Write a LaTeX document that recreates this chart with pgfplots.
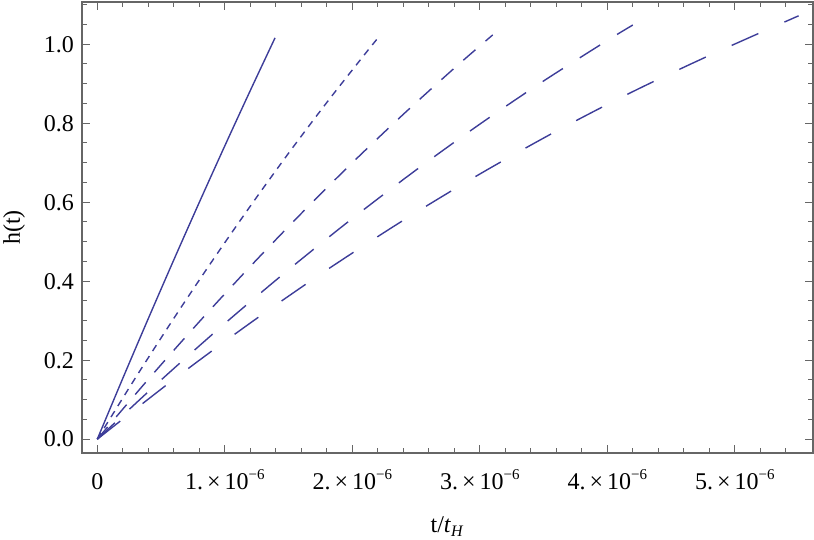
\documentclass[border=0pt]{standalone}
\usepackage{fontspec}
\setmainfont{Liberation Serif}
\usepackage{pgfplots}
\pgfplotsset{compat=1.18}
\usetikzlibrary{calc}
\definecolor{mma}{RGB}{61,61,153}
\definecolor{framegray}{RGB}{102,102,102}
\begin{document}
\begin{tikzpicture}
\begin{axis}[
  scale only axis,
  width=365.5pt, height=225.5pt,
  xmin=-0.12, xmax=5.613,
  ymin=-0.035, ymax=1.107,
  axis line style={framegray, line width=0.6pt},
  every tick/.style={framegray, line width=0.5pt},
  tick align=inside,
  major tick length=4pt,
  minor tick length=2.3pt,
  xtick={0,1,2,3,4,5},
  xticklabels={\mbox{0},\mbox{1.\,×\,10\raisebox{0.45em}{\fontsize{7.5}{8}\selectfont −6}},\mbox{2.\,×\,10\raisebox{0.45em}{\fontsize{7.5}{8}\selectfont −6}},\mbox{3.\,×\,10\raisebox{0.45em}{\fontsize{7.5}{8}\selectfont −6}},\mbox{4.\,×\,10\raisebox{0.45em}{\fontsize{7.5}{8}\selectfont −6}},\mbox{5.\,×\,10\raisebox{0.45em}{\fontsize{7.5}{8}\selectfont −6}}},
  minor xtick={-0.2,0.2,0.4,0.6,0.8,1.2,1.4,1.6,1.8,2.2,2.4,2.6,2.8,3.2,3.4,3.6,3.8,4.2,4.4,4.6,4.8,5.2,5.4},
  ytick={0,0.2,0.4,0.6,0.8,1.0},
  minor ytick={0.05,0.1,0.15,0.25,0.3,0.35,0.45,0.5,0.55,0.65,0.7,0.75,0.85,0.9,0.95,1.05,1.1},
  yticklabel style={/pgf/number format/fixed, /pgf/number format/fixed zerofill, /pgf/number format/precision=1},
  /pgf/number format/assume math mode=true,
  tick label style={font=\fontsize{12}{14}\selectfont},
  xticklabel style={anchor=base, yshift=-18.5pt},
  yticklabel style={anchor=east, xshift=-0.5pt},
  label style={font=\fontsize{12}{14}\selectfont},
  xlabel={t/\textit{t}\textsubscript{\textit{H}}},
  xlabel style={at={(axis description cs:0.5,0)}, anchor=base, yshift=-40pt},
  ylabel={h(t)},
  ylabel style={at={(axis description cs:-0.093,0.5)}, anchor=center},
]
% solid
\addplot[mma, line width=0.7pt, no marks, smooth] coordinates {(0,0) (0.2,0.1541) (0.4,0.3054) (0.6,0.4540) (0.8,0.5997) (1.0,0.7427) (1.2,0.8829) (1.394,1.0162)};
% short dashes
\addplot[mma, line width=0.7pt, no marks, smooth, dash pattern=on 3.5pt off 3pt] coordinates {(0,0) (0.3,0.1557) (0.6,0.3059) (0.9,0.4507) (1.2,0.5901) (1.5,0.7241) (1.8,0.8526) (2.1,0.9756) (2.196,1.0139)};
% medium dashes
\addplot[mma, line width=0.7pt, no marks, smooth, dash pattern=on 8pt off 6.65pt] coordinates {(0,0) (0.4,0.1516) (0.8,0.2974) (1.2,0.4374) (1.6,0.5716) (2.0,0.7000) (2.4,0.8226) (2.8,0.9395) (3.101,1.0236)};
% long dashes
\addplot[mma, line width=0.7pt, no marks, smooth, dash pattern=on 12pt off 10pt] coordinates {(0,0) (0.5,0.1498) (1.0,0.2929) (1.5,0.4292) (2.0,0.5588) (2.5,0.6816) (3.0,0.7977) (3.5,0.9070) (4.0,1.0096) (4.2,1.0487)};
% longest dashes
\addplot[mma, line width=0.7pt, no marks, smooth, dash pattern=on 14.6pt off 14.2pt] coordinates {(0,0) (0.6,0.1514) (1.2,0.2942) (1.8,0.4285) (2.4,0.5542) (3.0,0.6714) (3.6,0.7800) (4.2,0.8801) (4.8,0.9716) (5.5,1.0720)};
\end{axis}
\pgfresetboundingbox
\useasboundingbox ($(current axis.south west)+(-41pt,-43.5pt)$) rectangle ($(current axis.north east)+(0.5pt,1pt)$);
\end{tikzpicture}
\end{document}
